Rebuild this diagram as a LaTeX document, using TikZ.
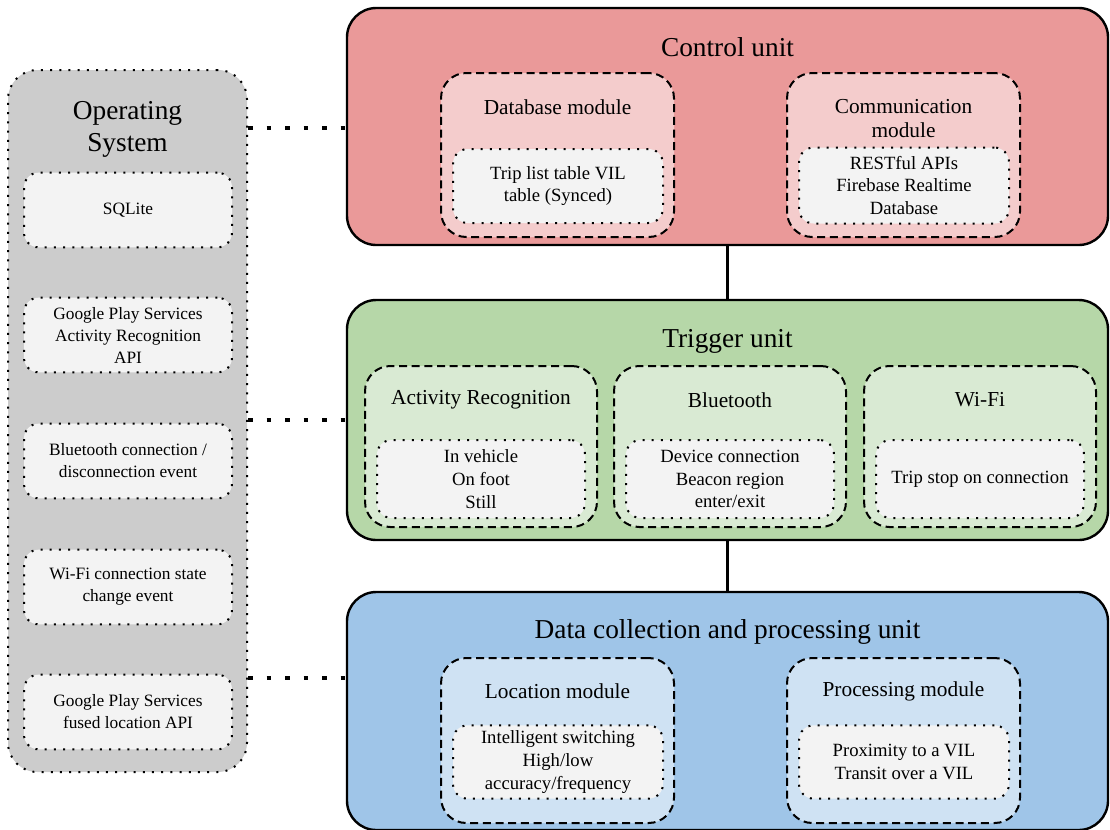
\documentclass[tikz,border=0pt]{standalone}
\usepackage{fontspec}
\setmainfont{Liberation Serif}
\usetikzlibrary{fit}

\definecolor{cuFill}{HTML}{EA9999}
\definecolor{cuMod}{HTML}{F4CCCC}
\definecolor{tuFill}{HTML}{B6D7A8}
\definecolor{tuMod}{HTML}{D9EAD3}
\definecolor{duFill}{HTML}{9FC5E8}
\definecolor{duMod}{HTML}{CFE2F3}
\definecolor{osFill}{HTML}{CCCCCC}
\definecolor{leafFill}{HTML}{F3F3F3}

\tikzset{
  unitbox/.style={draw=black, line width=1.8pt, rounded corners=22pt, inner sep=0pt},
  modbox/.style={draw=black, line width=1.5pt, dash pattern=on 6pt off 3.5pt, rounded corners=19pt, inner sep=0pt},
  dotbox/.style={draw=black, line width=1.5pt, dash pattern=on 1.5pt off 5.4pt},
  leafbox/.style={dotbox, fill=leafFill, rounded corners=11pt, inner sep=0pt, align=center,
    minimum width=157.5pt, font=\fontsize{14}{17}\selectfont},
  osleaf/.style={dotbox, fill=leafFill, rounded corners=11pt, inner sep=0pt, align=center,
    minimum width=156pt, minimum height=56pt, font=\fontsize{13}{16.5}\selectfont},
  unittitle/.style={font=\fontsize{20.5}{24}\selectfont, align=center},
  modtitle/.style={font=\fontsize{16}{18}\selectfont, align=center},
  link/.style={draw=black, line width=2.2pt},
  oslink/.style={draw=black, line width=3.6pt, dash pattern=on 3.6pt off 10.3pt}
}

\begin{document}
\begin{tikzpicture}[x=0.75pt, y=-0.75pt]
\useasboundingbox (0,0) rectangle (1110,829);

% ---------- Operating system column ----------
\node[dotbox, fill=osFill, rounded corners=22pt, inner sep=0pt, fit={(8,70) (247,772)}] (os) {};
\node[unittitle] (ost) at (127.5,129) {Operating\\System};
\node[osleaf] (sql) at (128,210) {SQLite};
\node[osleaf] (gar) at (128,335) {Google Play Services\\Activity Recognition\\API};
\node[osleaf] (bte) at (128,461) {Bluetooth connection /\\disconnection event};
\node[osleaf] (wfe) at (128,587) {Wi-Fi connection state\\change event};
\node[osleaf] (fla) at (128,712) {Google Play Services\\fused location API};

% ---------- Control unit ----------
\node[unitbox, fill=cuFill, fit={(347,8) (1108,245)}] (cu) {};
\node[unittitle] (cut) at (727.5,47) {Control unit};

\node[modbox, fill=cuMod, fit={(441,73) (674,237)}] (dbm) {};
\node[modtitle] (dbmt) at (dbm.center |- 0,107) {Database module};
\node[leafbox, minimum height=55.5pt] (dbl) at (558,186) {Trip list table VIL\\table (Synced)};

\node[modbox, fill=cuMod, fit={(787,73) (1020,237)}] (cmm) {};
\node[modtitle] (cmmt) at (cmm.center |- 0,119) {Communication\\module};
\node[leafbox, minimum height=57pt] (cml) at (904,185.5) {RESTful APIs\\Firebase Realtime\\Database};

% ---------- Trigger unit ----------
\node[unitbox, fill=tuFill, fit={(347,300) (1108,540)}] (tu) {};
\node[unittitle] (tut) at (727.5,341) {Trigger unit};

\node[modbox, fill=tuMod, fit={(365,366) (597,527)}] (arm) {};
\node[modtitle] (armt) at (arm.center |- 0,400) {Activity Recognition};
\node[leafbox, minimum height=58.5pt, minimum width=156pt] (arl) at (481,479) {In vehicle\\On foot\\Still};

\node[modbox, fill=tuMod, fit={(614,366) (846,527)}] (btm) {};
\node[modtitle] (btmt) at (btm.center |- 0,400) {Bluetooth};
\node[leafbox, minimum height=58.5pt, minimum width=156pt] (btl) at (730,479) {Device connection\\Beacon region\\enter/exit};

\node[modbox, fill=tuMod, fit={(864,366) (1096,527)}] (wfm) {};
\node[modtitle] (wfmt) at (wfm.center |- 0,400) {Wi-Fi};
\node[leafbox, minimum height=58.5pt, minimum width=156pt] (wfl) at (980,479) {Trip stop on connection};

% ---------- Data collection and processing unit ----------
\node[unitbox, fill=duFill, fit={(347,592) (1108,830)}] (du) {};
\node[unittitle] (dut) at (727.5,632) {Data collection and processing unit};

\node[modbox, fill=duMod, fit={(441,658) (674,823)}] (lcm) {};
\node[modtitle] (lcmt) at (lcm.center |- 0,691) {Location module};
\node[leafbox, minimum height=55pt] (lcl) at (558,762) {Intelligent switching\\High/low\\accuracy/frequency};

\node[modbox, fill=duMod, fit={(787,658) (1020,823)}] (prm) {};
\node[modtitle] (prmt) at (prm.center |- 0,691) {Processing module};
\node[leafbox, minimum height=55pt] (prl) at (904,762) {Proximity to a VIL\\Transit over a VIL};

% ---------- Connectors ----------
\draw[link] (cu.south) -- (tu.north);
\draw[link] (tu.south) -- (du.north);

\coordinate (lvlA) at (0,128);
\coordinate (lvlB) at (0,420);
\coordinate (lvlC) at (0,678);
\draw[oslink] (os.east |- lvlA) -- (cu.west |- lvlA);
\draw[oslink] (os.east |- lvlB) -- (tu.west |- lvlB);
\draw[oslink] (os.east |- lvlC) -- (du.west |- lvlC);
\end{tikzpicture}
\end{document}
